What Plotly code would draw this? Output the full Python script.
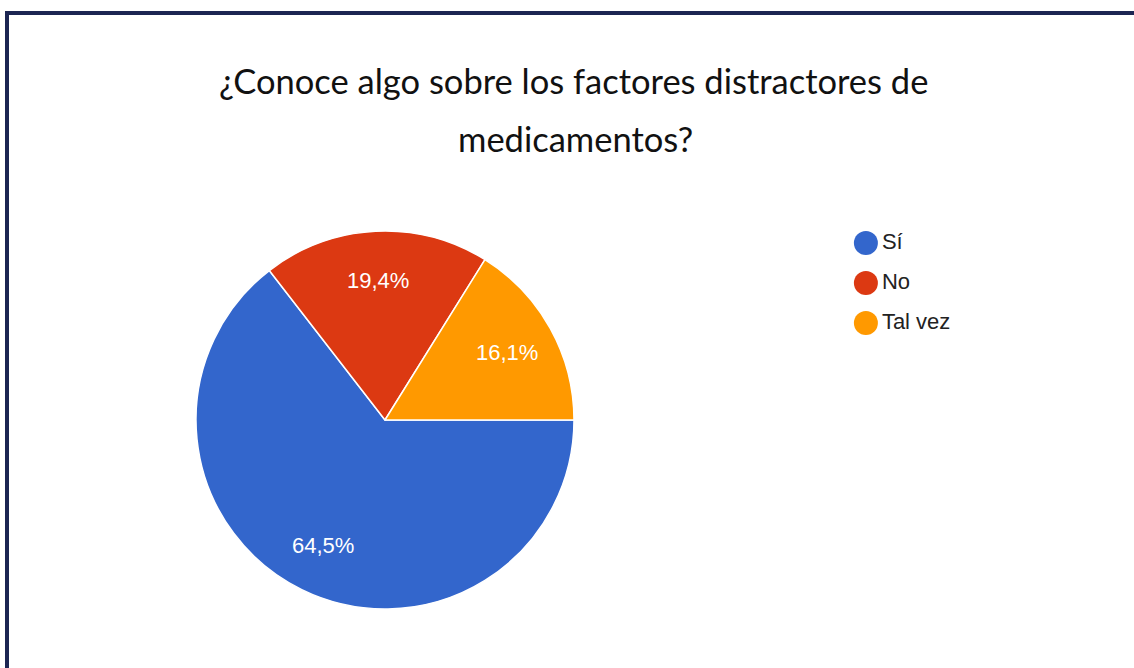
import math
import plotly.graph_objects as go

categories = ["Sí", "No", "Tal vez"]
counts = [20, 6, 5]
colors = ["#3366CC", "#DC3912", "#FF9900"]
title_lines = ["¿Conoce algo sobre los factores distractores de", "medicamentos?"]

W, H = 1134, 668

def px(x):
    return x / W

def py(y):
    return 1 - y / H

# pie geometry (pixels)
PIE_L, PIE_R, PIE_T, PIE_B = 196, 574, 231, 609
START_DEG = 90
LABEL_FRAC = 0.74

fig = go.Figure()

fig.add_trace(go.Pie(
    labels=categories,
    values=counts,
    marker=dict(colors=colors, line=dict(color="white", width=1.5)),
    sort=False,
    direction="clockwise",
    rotation=START_DEG,
    textinfo="none",
    domain=dict(x=[px(PIE_L), px(PIE_R)], y=[py(PIE_B), py(PIE_T)]),
    showlegend=False,
    hoverinfo="label+percent",
))

# percentage labels placed along each slice's mid angle
total = sum(counts)
cx, cy = (PIE_L + PIE_R) / 2, (PIE_T + PIE_B) / 2
rad = (PIE_R - PIE_L) / 2
annotations = []
cum = 0
for c in counts:
    mid = START_DEG + (cum + c / 2) / total * 360
    cum += c
    t = math.radians(mid)
    lx = cx + rad * LABEL_FRAC * math.sin(t)
    ly = cy - rad * LABEL_FRAC * math.cos(t)
    pct = f"{c / total * 100:.1f}".replace(".", ",") + "%"
    annotations.append(dict(
        text=pct, x=px(lx), y=py(ly), xref="paper", yref="paper",
        showarrow=False, xanchor="center", yanchor="middle",
        font=dict(family="Liberation Sans, Arial", size=22, color="white"),
    ))

# custom legend with circular markers
fig.add_trace(go.Scatter(
    x=[0.07] * len(categories),
    y=categories,
    mode="markers+text",
    marker=dict(color=colors, size=24, symbol="circle"),
    text=categories,
    textposition="middle right",
    textfont=dict(family="Liberation Sans, Arial", size=22, color="#222222"),
    showlegend=False,
    hoverinfo="skip",
    cliponaxis=False,
    xaxis="x", yaxis="y",
))

annotations += [
    dict(text=title_lines[0], x=px(573), y=py(80), xref="paper", yref="paper",
         showarrow=False, xanchor="center", yanchor="middle",
         font=dict(family="Lato, Open Sans", size=34.5, color="#111111")),
    dict(text=title_lines[1], x=px(575), y=py(138), xref="paper", yref="paper",
         showarrow=False, xanchor="center", yanchor="middle",
         font=dict(family="Lato, Open Sans", size=34.5, color="#111111")),
]

fig.update_layout(
    width=W, height=H,
    margin=dict(l=0, r=0, t=0, b=0),
    paper_bgcolor="white",
    plot_bgcolor="rgba(0,0,0,0)",
    separators=",.",
    showlegend=False,
    xaxis=dict(domain=[px(850), px(1077)], range=[0, 1], visible=False, fixedrange=True),
    yaxis=dict(domain=[py(363), py(203)], type="category", categoryarray=categories,
               range=[3, -1], visible=False, fixedrange=True),
    annotations=annotations,
    shapes=[
        dict(type="line", xref="paper", yref="paper", x0=px(5), x1=1, y0=py(13), y1=py(13),
             line=dict(color="#1c2552", width=4)),
        dict(type="line", xref="paper", yref="paper", x0=px(7), x1=px(7), y0=py(11), y1=0,
             line=dict(color="#1c2552", width=4)),
    ],
)

fig.write_html("out.html",
               config={"displayModeBar": False},
               post_script="document.body.style.margin='0';document.body.style.padding='0';")
